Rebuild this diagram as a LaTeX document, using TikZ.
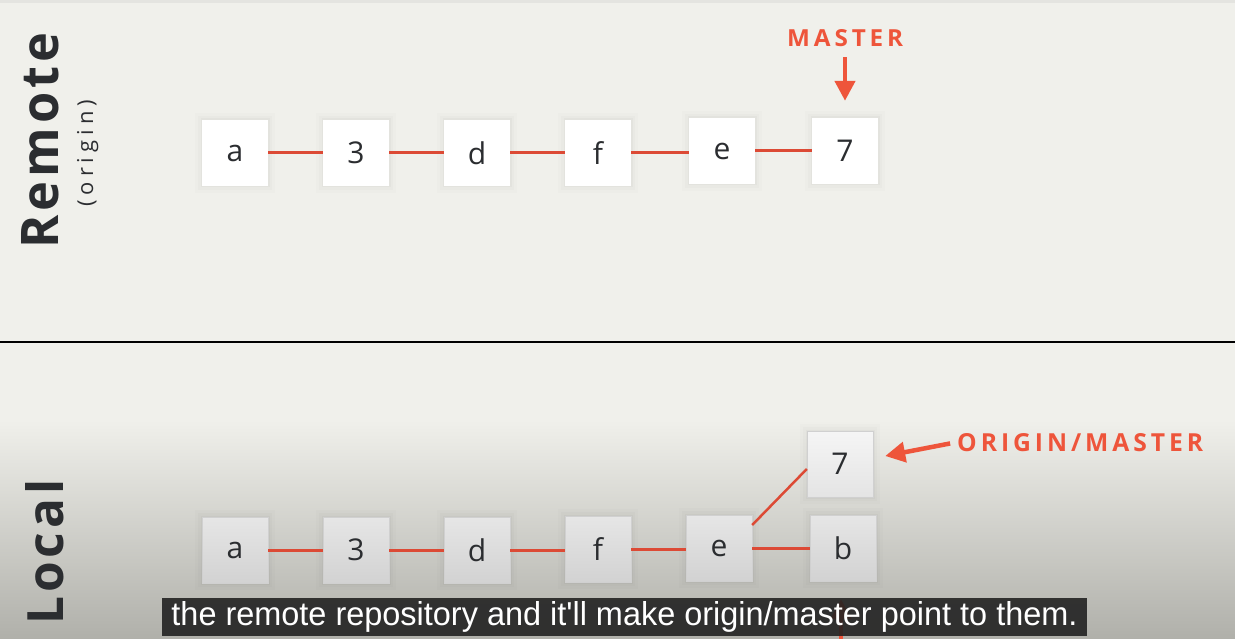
\documentclass[tikz,border=0pt]{standalone}
\usepackage{fontspec}
\usepackage{graphicx}
\setmainfont{Open Sans}
\newfontfamily\subfont{Liberation Sans}
\newfontfamily\spacedfont[LetterSpace=16]{Open Sans}
\newfontfamily\sidefont[LetterSpace=8]{Open Sans}
\newfontfamily\origfont[LetterSpace=23]{Open Sans}
\usetikzlibrary{arrows.meta}
\definecolor{bgtop}{HTML}{F0F0EB}
\definecolor{bgmid}{HTML}{D3D3CE}
\definecolor{bgbot}{HTML}{B0B0AA}
\definecolor{topstrip}{HTML}{E4E4E0}
\definecolor{ink}{HTML}{2B2D30}
\definecolor{linkred}{HTML}{DC4A35}
\definecolor{labelred}{HTML}{EE553B}
\definecolor{boxtop}{HTML}{E6E6E6}
\definecolor{boxbot}{HTML}{D2D2D2}
\definecolor{boxtopl}{HTML}{F5F5F5}
\definecolor{boxbotl}{HTML}{E4E4E4}
\definecolor{boxedge}{HTML}{D0D0D0}
\definecolor{capbg}{HTML}{222222}
\begin{document}
\begin{tikzpicture}[x=1pt,y=-1pt,
  softshadow/.style={
    preaction={draw=black,draw opacity=0.012,line width=14pt},
    preaction={draw=black,draw opacity=0.016,line width=8pt},
    preaction={draw=black,draw opacity=0.022,line width=3pt}},
  commit/.style={minimum width=66pt,minimum height=66pt,inner sep=0pt,
    font=\fontsize{30}{30}\selectfont,text=ink},
  remotebox/.style={commit,fill=white,softshadow},
  localbox/.style={commit,top color=boxtop,bottom color=boxbot,draw=boxedge,line width=0.4pt,softshadow},
  lightbox/.style={localbox,top color=boxtopl,bottom color=boxbotl},
  link/.style={draw=linkred,line width=3pt},
  pointer/.style={draw=labelred,line width=4.5pt,-{Triangle[length=20pt,width=20pt]}},
  sidelabel/.style={rotate=90,anchor=base west,inner sep=0pt,text=ink},
  redlabel/.style={anchor=base west,inner sep=0pt,text=labelred}
]
\useasboundingbox (0,0) rectangle (1235,639);
\clip (0,0) rectangle (1235,639);

% background
\fill[bgtop] (0,0) rectangle (1235,420);
\fill[topstrip] (0,0) rectangle (1235,3);
\shade[top color=bgtop,middle color=bgmid,bottom color=bgbot] (0,420) rectangle (1235,639);
\draw[line width=1.2pt,black] (0,342) -- (1235,342);

% side labels
\node[sidelabel] (remotelbl) at (59,249) {\resizebox{216pt}{37pt}{\sidefont\bfseries Remote}};
\node[sidelabel] (originlbl) at (93,207) {\resizebox{107pt}{!}{\fontsize{22}{22}\selectfont\origfont (origin)}};
\node[sidelabel] (locallbl) at (63,625) {\resizebox{145pt}{38pt}{\sidefont\bfseries Local}};

% remote commits
\node[remotebox] (ra) at (235,153) {a};
\node[remotebox] (r3) at (356,153) {3};
\node[remotebox] (rd) at (477,153) {d};
\node[remotebox] (rf) at (598,153) {f};
\node[remotebox] (re) at (722,151) {e};
\node[remotebox] (r7) at (845,151) {7};
\draw[link] (ra) -- (r3);
\draw[link] (r3) -- (rd);
\draw[link] (rd) -- (rf);
\draw[link] (rf) -- (rf -| re.west);
\draw[link] (re) -- (r7);

% master pointer
\node[redlabel] (mlbl) at (787,47) {\resizebox{116pt}{17pt}{\spacedfont\bfseries MASTER}};
\draw[pointer,shorten <=10pt,shorten >=17pt] (mlbl.south -| r7.north) -- (r7.north);

% local commits
\node[localbox] (la) at (235,550) {a};
\node[localbox] (l3) at (356,550) {3};
\node[localbox] (ld) at (477,550) {d};
\node[localbox] (lf) at (598,549) {f};
\node[localbox] (le) at (719,548) {e};
\node[lightbox] (l7) at (840,464) {7};
\node[localbox] (lb) at (843,548) {b};
\draw[link] (la) -- (l3);
\draw[link] (l3) -- (ld);
\draw[link] (ld) -- (ld -| lf.west);
\draw[link] (lf) -- (lf -| le.west);
\draw[link] (le) -- (lb);
\draw[link,line width=2.5pt] ([yshift=23pt]le.east) -- ([yshift=-5pt]l7.west);

% origin/master pointer
\node[redlabel] (olbl) at (957,451) {\resizebox{246pt}{18pt}{\spacedfont\bfseries ORIGIN/MASTER}};
\draw[pointer,shorten <=7pt] (olbl.west) -- ([xshift=12pt,yshift=8pt]l7.east);

% pointer from below to b (mostly hidden)
\coordinate (below) at (841,680);
\draw[pointer,shorten >=18pt] (below) -- (lb.south -| below);

% subtitle
\node[fill=capbg,fill opacity=0.9,text opacity=1,text=white,minimum width=925pt,minimum height=38pt,inner sep=0pt]
  (subtitle) at (624.5,617) {\resizebox{906pt}{24pt}{\subfont\fontsize{28}{28}\selectfont the remote repository and it'll make origin/master point to them.}};
\end{tikzpicture}
\end{document}
